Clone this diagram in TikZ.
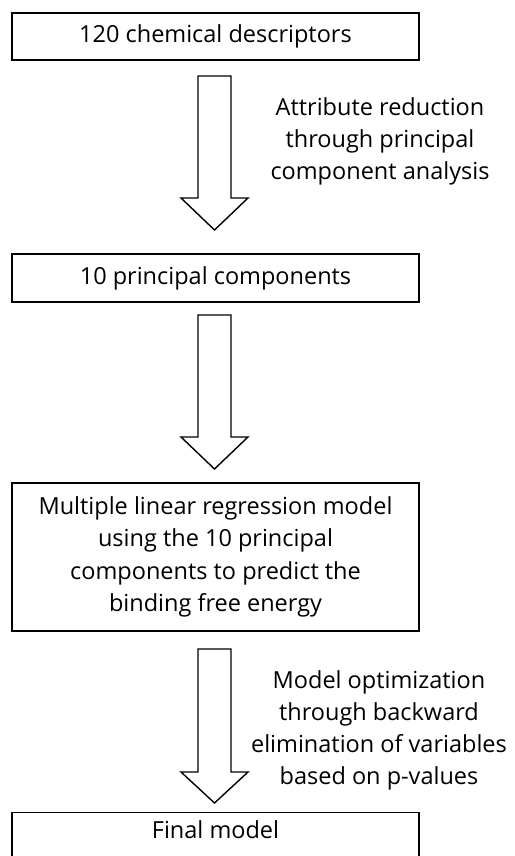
\documentclass[tikz,border=0pt]{standalone}
\usepackage{fontspec}
\setmainfont{Open Sans}
\begin{document}
\begin{tikzpicture}[x=1pt,y=-1pt,
  box/.style={draw=black, line width=1.4pt, minimum width=407pt, inner sep=0pt, align=center,
    font=\fontsize{23.5}{32.5}\selectfont},
  lbl/.style={align=center, inner sep=0pt, font=\fontsize{23.5}{32}\selectfont},
  blockarrow/.style={draw=black, line width=1.4pt, line join=miter, fill=white}]
\useasboundingbox (0,0) rectangle (514,856);
\clip (0,0) rectangle (514,856);
\fill[white] (0,0) rectangle (514,856);
\node[box, minimum height=47pt] (b1) at (215.5,36.5) {120 chemical descriptors};
\node[box, minimum height=48pt] (b2) at (215.5,278) {10 principal components};
\node[box, minimum height=148pt] (b3) at (215.5,557) {Multiple linear regression model\\using the 10 principal\\components to predict the\\binding free energy};
\node[box, minimum height=60pt, anchor=north] (b4) at (215.5,812) {};
\node[lbl] (b4t) at (215.5,830) {Final model};
% block arrows
\newcommand{\myblockarrow}[3]{%
  \draw[blockarrow] (198,#1) -- (231,#1) -- (231,#2) -- (248,#2) -- (214.5,#3) -- (181,#2) -- (198,#2) -- cycle;}
\myblockarrow{76}{198}{230}
\myblockarrow{315}{437}{469}
\myblockarrow{649}{772}{803}
\node[lbl] (t1) at (380,141) {Attribute reduction\\through principal\\component analysis};
\node[lbl] (t3) at (379,730.5) {Model optimization\\through backward\\elimination of variables\\based on p-values};
\end{tikzpicture}
\end{document}
